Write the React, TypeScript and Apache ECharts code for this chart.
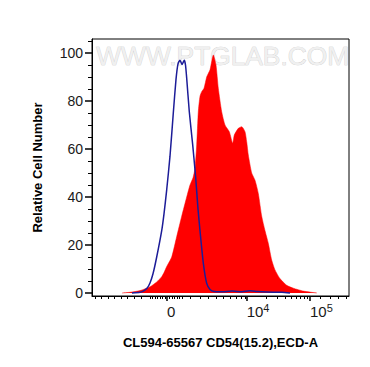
import React, { useEffect, useRef } from 'react';
import * as echarts from 'echarts';

const FONT = '"Liberation Sans", Arial, Helvetica, sans-serif';

// x values are display channels of the biexponential (logicle) FL axis
const isotypeChannel = [40, 48, 51.3, 55, 58, 61, 64.7, 69.7, 72, 74.7, 78, 81.3, 84, 86, 88, 90, 92.3, 93.5, 94.7, 97.3, 100.7, 103.7, 106, 108, 111.3, 114.7, 118, 122, 130, 140, 150, 158, 165, 175, 190, 198];
const isotypeCount = [0, 0.3, 0.8, 2, 4.2, 8, 15, 26, 33, 43, 57, 75, 89, 95.5, 97, 95.2, 97, 95, 89.5, 75.5, 61.7, 48, 35, 26, 12.5, 4, 1.5, 0.6, 0.5, 0.8, 0.5, 0.9, 0.6, 0.4, 0.3, 0];

const cd54Channel = [30, 38, 48, 58, 64.7, 69.7, 72, 74.7, 79.7, 84.7, 89.7, 94.7, 98, 101, 103, 104.7, 106.3, 108, 109.7, 112, 114.7, 118, 120.3, 121.3, 124, 126.3, 129.7, 133, 137.3, 140.7, 142.3, 146.3, 149.7, 153, 154.7, 156.3, 159.7, 163, 166.3, 169.7, 173, 176.3, 179.7, 183, 188, 194.7, 201.3, 211.3, 224.7];
const cd54Count = [0, 0.3, 1, 2.6, 4.6, 6.8, 8.5, 11, 15, 23.5, 32, 40, 45, 48, 52, 61.7, 75.5, 82, 83.9, 85.3, 90, 93, 97.8, 99.2, 95, 85.3, 75.5, 70, 67.2, 62.4, 65.8, 68.6, 69.3, 67.2, 63, 57.5, 50, 47, 41.5, 32, 26, 20.7, 13.7, 9.6, 6, 3.2, 2, 0.8, 0];

const yTickValues = [0, 20, 40, 60, 80, 100];
const yMinorTicks = [5, 10, 15, 25, 30, 35, 45, 50, 55, 65, 70, 75, 85, 90, 95, 105];

const xMajorTicks = [75, 154.7, 218];
const xTickLabels = ['0', '10^4', '10^5'];
const xMinorTicks = [3, 9.5, 16, 22.5, 29, 35.5, 42, 49, 58, 60.5, 63, 65.5, 68, 70.5, 73, 77.5, 80, 82.5, 85, 87.5, 90, 98, 108, 116, 124, 131, 138, 144.5, 149.5, 153, 174, 185, 193, 199, 204, 208, 212, 215, 228, 238, 246, 254];

const toPairs = (xs: number[], ys: number[]) => xs.map((x, i) => [x, ys[i]]);

export default function App() {
  const ref = useRef<HTMLDivElement>(null);
  useEffect(() => {
    if (!ref.current) return;
    const chart = echarts.init(ref.current, null, { renderer: 'svg' });
    // labels start at their tick: centred block with a left pad equal to the text width
    const xFormatter = (v: number) => {
      const i = xMajorTicks.findIndex((t) => Math.abs(t - v) < 0.01);
      const lab = i >= 0 ? xTickLabels[i] : '';
      if (lab.includes('^')) {
        const [b, e] = lab.split('^');
        return `{p|${b}}{s|${e}}`;
      }
      return `{z|${lab}}`;
    };
    const base = { fontSize: 15, lineHeight: 18, color: '#1a1a1a', fontFamily: FONT };
    chart.setOption({
      animation: false,
      backgroundColor: '#fff',
      grid: { left: 92, right: 21, top: 39, bottom: 71, show: true, borderColor: '#000', borderWidth: 1, backgroundColor: 'transparent' },
      graphic: [
        {
          type: 'text', left: 96, top: 43, z: 0, silent: true,
          style: { text: 'WWW.PTGLAB.COM', fontSize: 26.3, fontFamily: FONT, fill: '#f0f0f0', stroke: '#c4c4c4', lineWidth: 0.6 },
        },
      ],
      xAxis: [
        {
          type: 'value', min: 0, max: 257, position: 'bottom',
          axisLine: { show: true, onZero: false, lineStyle: { color: '#000', width: 1 } },
          splitLine: { show: false },
          axisTick: { show: true, customValues: xMajorTicks, length: 5, lineStyle: { color: '#000', width: 1.5 } },
          axisLabel: {
            customValues: xMajorTicks, formatter: xFormatter, align: 'center', margin: 6,
            rich: {
              z: { ...base, padding: [0, 0, 0, 8.3] },
              p: { ...base, padding: [0, 0, 0, 22.8] },
              s: { fontSize: 11, lineHeight: 11, verticalAlign: 'top', color: '#1a1a1a', fontFamily: FONT },
            },
          },
          name: 'CL594-65567 CD54(15.2),ECD-A', nameLocation: 'middle', nameGap: 40,
          nameTextStyle: { fontWeight: 'bold', fontSize: 13, color: '#000', fontFamily: FONT },
        },
        {
          type: 'value', min: 0, max: 257, position: 'bottom',
          axisLine: { show: false, onZero: false },
          splitLine: { show: false },
          axisTick: { show: true, customValues: xMinorTicks, length: 3, lineStyle: { color: '#000', width: 1 } },
          axisLabel: { show: false },
        },
      ],
      yAxis: [
        {
          type: 'value', min: -1.25, max: 105.83, position: 'left',
          axisLine: { show: true, onZero: false, lineStyle: { color: '#000', width: 1 } },
          splitLine: { show: false },
          axisTick: { show: true, customValues: yTickValues, length: 7, lineStyle: { color: '#000', width: 1.5 } },
          axisLabel: { customValues: yTickValues, fontSize: 14, color: '#1a1a1a', fontFamily: FONT, margin: 9 },
          name: 'Relative Cell Number', nameLocation: 'middle', nameGap: 48,
          nameTextStyle: { fontWeight: 'bold', fontSize: 13, color: '#000', fontFamily: FONT },
        },
        {
          type: 'value', min: -1.25, max: 105.83, position: 'left',
          axisLine: { show: false, onZero: false },
          splitLine: { show: false },
          axisTick: { show: true, customValues: yMinorTicks, length: 4, lineStyle: { color: '#000', width: 1 } },
          axisLabel: { show: false },
        },
      ],
      series: [
        {
          type: 'line', name: 'CD54', xAxisIndex: 0, yAxisIndex: 0, z: 3,
          data: toPairs(cd54Channel, cd54Count),
          showSymbol: false, smooth: 0.2,
          lineStyle: { width: 0.5, color: '#ff0000' },
          areaStyle: { color: '#ff0000', opacity: 1 },
        },
        {
          type: 'line', name: 'Isotype', xAxisIndex: 0, yAxisIndex: 0, z: 4,
          data: toPairs(isotypeChannel, isotypeCount),
          showSymbol: false, smooth: 0.2,
          lineStyle: { width: 1.5, color: '#1c1c98' },
        },
      ],
    });
    return () => chart.dispose();
  }, []);
  return <div ref={ref} style={{ position: 'fixed', left: 0, top: 0, width: 370, height: 367 }} />;
}
